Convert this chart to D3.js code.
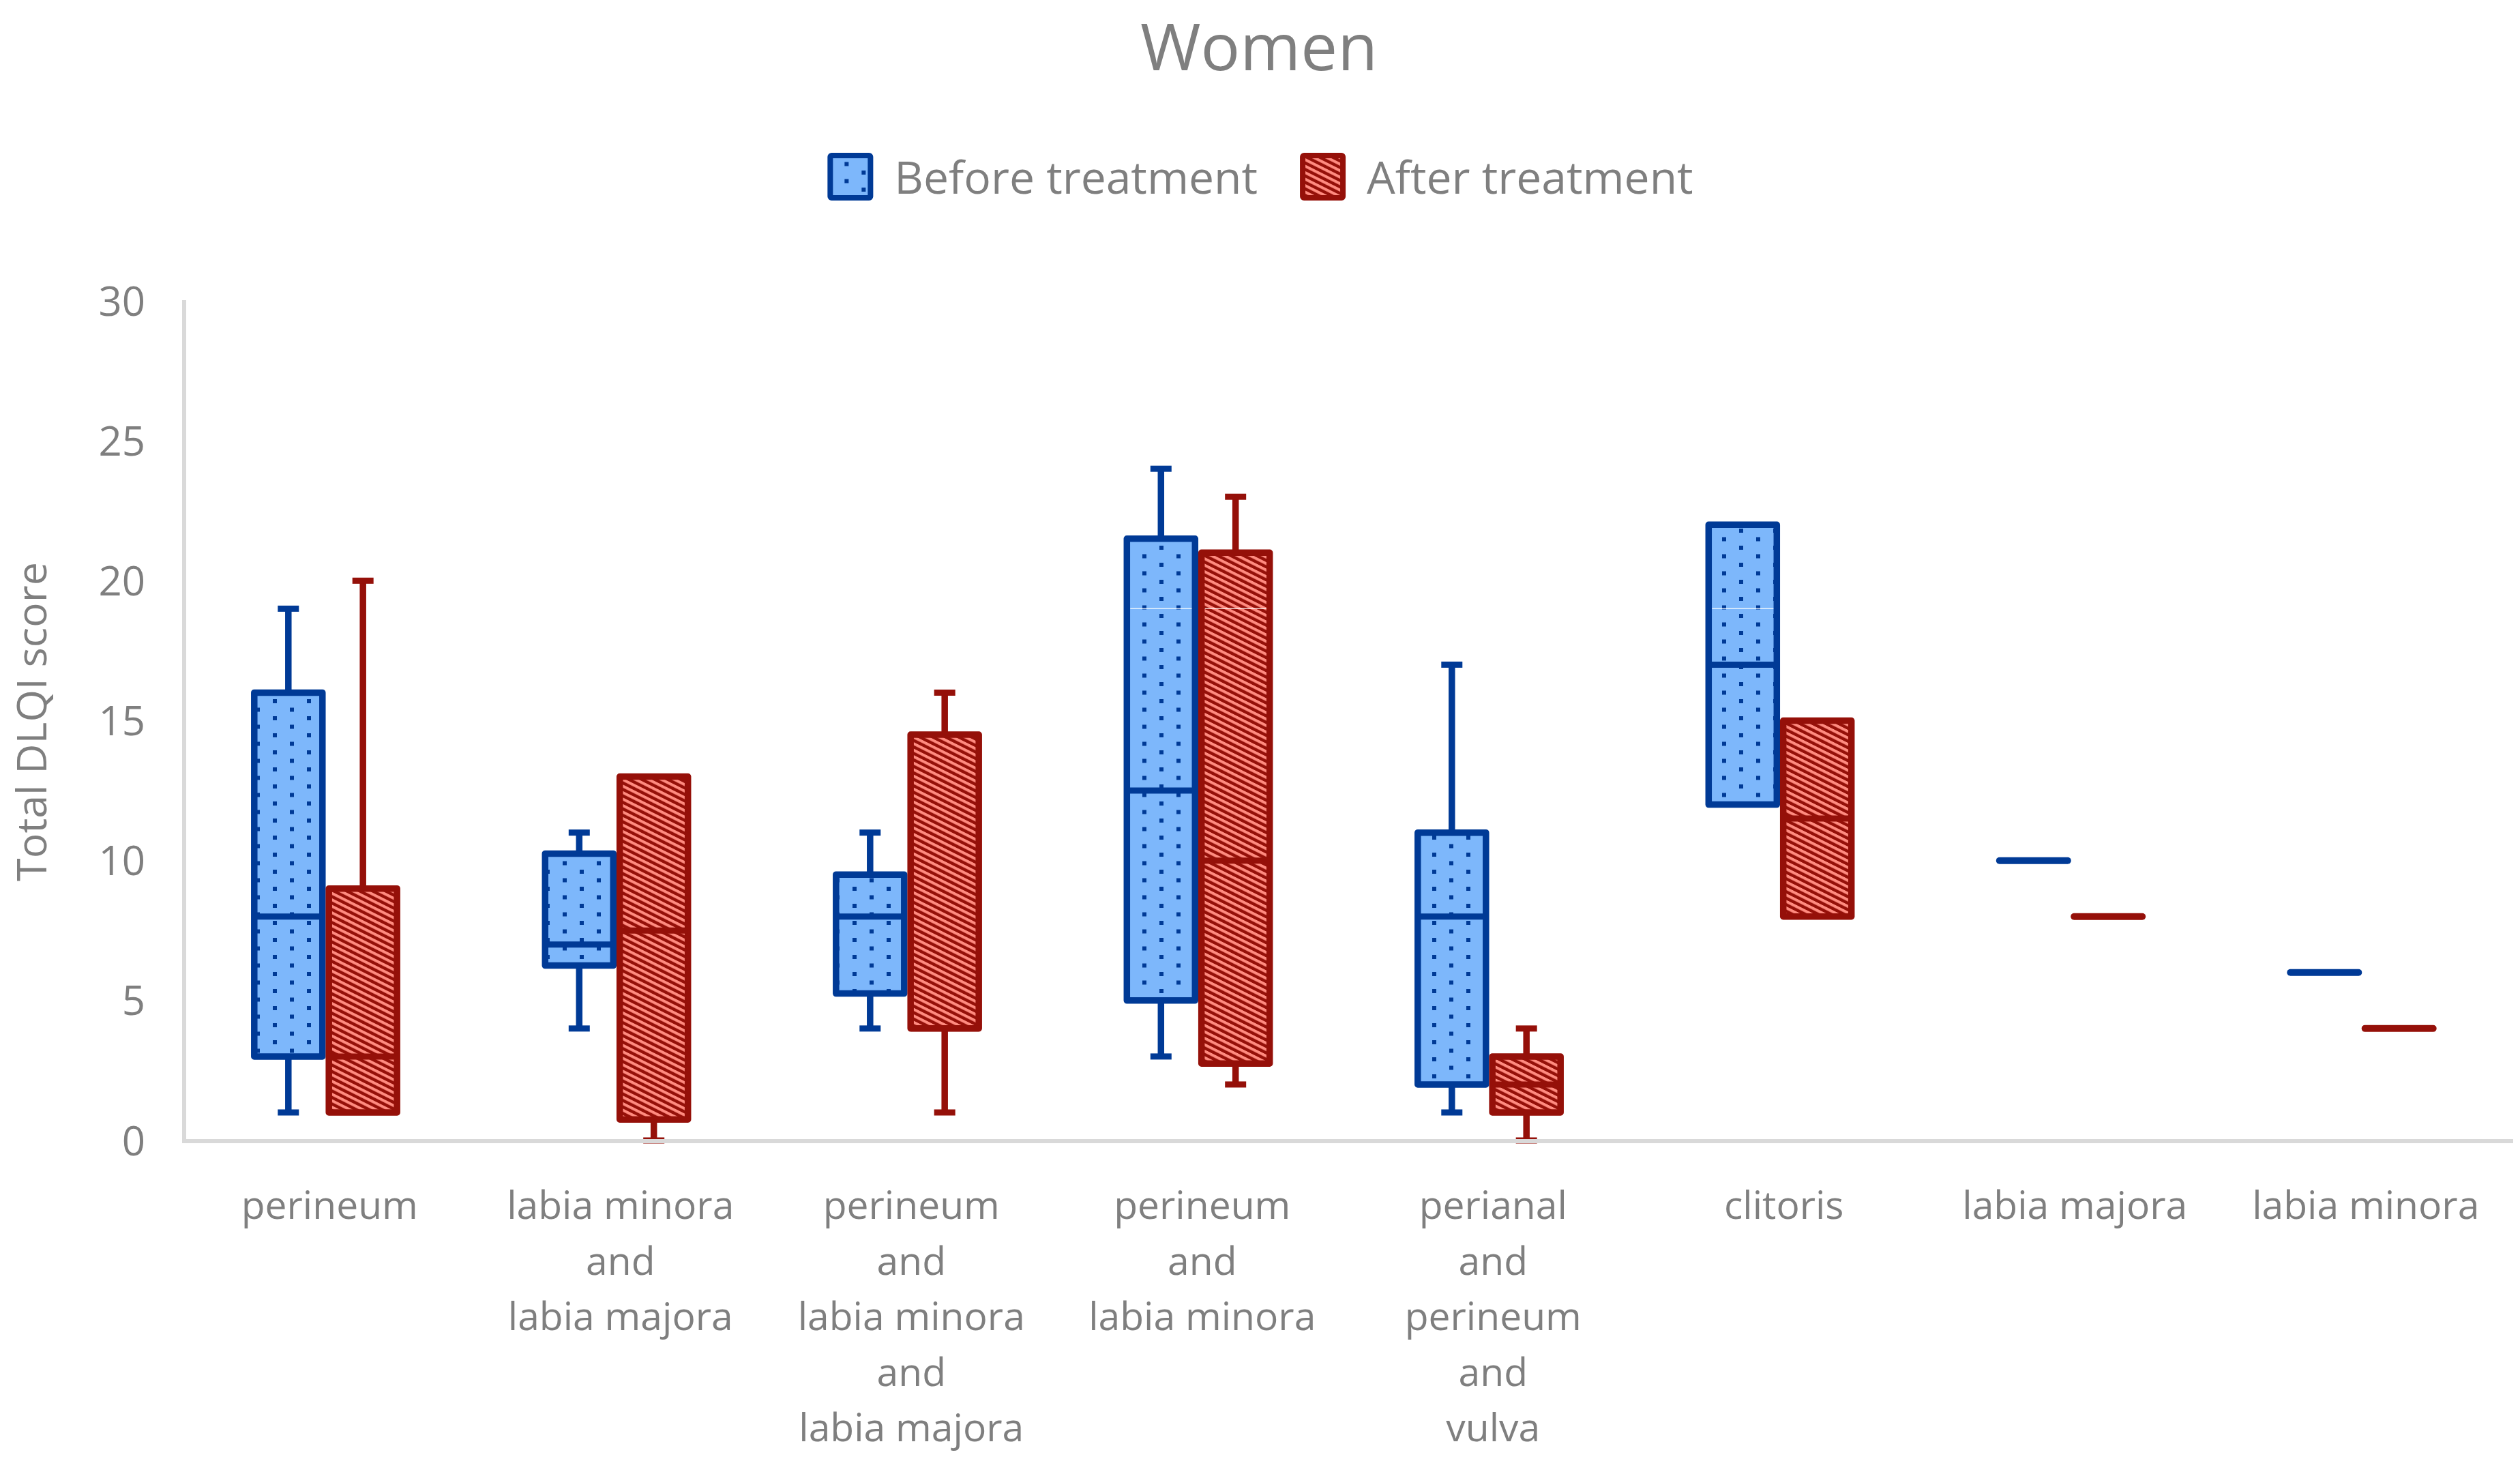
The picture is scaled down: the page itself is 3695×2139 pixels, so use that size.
<!DOCTYPE html>
<html lang="en">
<head>
    <meta charset="UTF-8">
    <title>Women - Total DLQI score</title>
    <script src="https://d3js.org/d3.v7.min.js"></script>
    <style>
        body { margin: 0; background: #fff; }
        text { font-family: "Open Sans", "Liberation Sans", sans-serif; fill: #7f7f7f; }
    </style>
</head>
<body>
    <div id="chart"></div>

    <script>
        // categories (label lines), and five-number summaries [min, q1, median, q3, max]
        var categories = [
            "perineum",
            "labia minora\nand\nlabia majora",
            "perineum\nand\nlabia minora\nand\nlabia majora",
            "perineum\nand\nlabia minora",
            "perianal\nand\nperineum\nand\nvulva",
            "clitoris",
            "labia majora",
            "labia minora"
        ];
        var beforeStats = [
            [1, 3, 8, 16, 19],
            [4, 6.25, 7, 10.25, 11],
            [4, 5.25, 8, 9.5, 11],
            [3, 5, 12.5, 21.5, 24],
            [1, 2, 8, 11, 17],
            [12, 12, 17, 22, 22],
            [10, 10, 10, 10, 10],
            [6, 6, 6, 6, 6]
        ];
        var afterStats = [
            [1, 1, 3, 9, 20],
            [0, 0.75, 7.5, 13, 13],
            [1, 4, 4, 14.5, 16],
            [2, 2.75, 10, 21, 23],
            [0, 1, 2, 3, 4],
            [8, 8, 11.5, 15, 15],
            [8, 8, 8, 8, 8],
            [4, 4, 4, 4, 4]
        ];
        var seriesNames = ["Before treatment", "After treatment"];
        var yTicks = [0, 5, 10, 15, 20, 25, 30];

        var width = 3695,
            height = 2139;

        var series = [
            { name: seriesNames[0], stats: beforeStats, stroke: "#003a96", fill: "url(#dots)" },
            { name: seriesNames[1], stats: afterStats, stroke: "#951009", fill: "url(#diag)" }
        ];

        var svg = d3.select("#chart").append("svg")
            .attr("width", width)
            .attr("height", height);

        // fill patterns: dotted blue, shallow diagonal red stripes
        var defs = svg.append("defs");
        var dots = defs.append("pattern")
            .attr("id", "dots")
            .attr("patternUnits", "userSpaceOnUse")
            .attr("width", 50)
            .attr("height", 25);
        dots.append("rect").attr("width", 50).attr("height", 25).attr("fill", "#7db7fb");
        dots.append("rect").attr("x", 0).attr("y", 0).attr("width", 6).attr("height", 6).attr("fill", "#003a96");
        dots.append("rect").attr("x", 25).attr("y", 12.5).attr("width", 6).attr("height", 6).attr("fill", "#003a96");

        var diag = defs.append("pattern")
            .attr("id", "diag")
            .attr("patternUnits", "userSpaceOnUse")
            .attr("width", 20)
            .attr("height", 9.5)
            .attr("patternTransform", "skewY(26.57)");
        diag.append("rect").attr("width", 20).attr("height", 9.5).attr("fill", "#951009");
        diag.append("rect").attr("width", 20).attr("height", 4.5).attr("fill", "#ff8b80");

        // scales
        var x0 = d3.scaleBand()
            .domain(d3.range(categories.length))
            .range([270, 3682]);

        var x1 = d3.scaleBand()
            .domain(seriesNames)
            .range([x0.bandwidth() * 0.23, x0.bandwidth() * 0.743]);

        var y = d3.scaleLinear()
            .domain([0, 30])
            .range([1672, 441]);

        var boxW = 100,
            capW = 31;

        // title
        svg.append("text")
            .attr("x", 1846)
            .attr("y", 103)
            .attr("text-anchor", "middle")
            .style("font-size", "96px")
            .text("Women");

        // legend
        var legend = svg.append("g");
        var lx = 0;
        series.forEach(function(s) {
            var g = legend.append("g").attr("transform", "translate(" + lx + ",0)");
            g.append("rect")
                .attr("x", 4).attr("y", 228)
                .attr("width", 59).attr("height", 62)
                .attr("rx", 2)
                .attr("fill", s.fill)
                .attr("stroke", s.stroke)
                .attr("stroke-width", 8);
            var t = g.append("text")
                .attr("x", 98)
                .attr("y", 284)
                .style("font-size", "66px")
                .text(s.name);
            lx += 98 + t.node().getComputedTextLength() + 62;
        });
        var legendW = lx - 62;
        legend.attr("transform", "translate(" + (1848 - legendW / 2) + ",0)");

        // y axis labels
        svg.append("g").selectAll("text")
            .data(yTicks)
            .join("text")
            .attr("x", 213)
            .attr("y", function(d) { return y(d); })
            .attr("dy", "0.36em")
            .attr("text-anchor", "end")
            .style("font-size", "60px")
            .text(function(d) { return d; });

        svg.append("text")
            .attr("transform", "translate(68," + 1058 + ") rotate(-90)")
            .attr("text-anchor", "middle")
            .style("font-size", "61px")
            .text("Total DLQI score");

        // boxes
        var plot = svg.append("g");
        series.forEach(function(s) {
            var g = plot.append("g");
            s.stats.forEach(function(d, i) {
                var cx = x0(i) + x1(s.name) + x1.bandwidth() / 2;
                var min = d[0], q1 = d[1], med = d[2], q3 = d[3], max = d[4];

                // whiskers
                if (max > q3) {
                    g.append("line")
                        .attr("x1", cx).attr("x2", cx)
                        .attr("y1", y(q3)).attr("y2", y(max))
                        .attr("stroke", s.stroke).attr("stroke-width", 9.5);
                    g.append("line")
                        .attr("x1", cx - capW / 2).attr("x2", cx + capW / 2)
                        .attr("y1", y(max)).attr("y2", y(max))
                        .attr("stroke", s.stroke).attr("stroke-width", 9);
                }
                if (min < q1) {
                    g.append("line")
                        .attr("x1", cx).attr("x2", cx)
                        .attr("y1", y(q1)).attr("y2", y(min))
                        .attr("stroke", s.stroke).attr("stroke-width", 9.5);
                    g.append("line")
                        .attr("x1", cx - capW / 2).attr("x2", cx + capW / 2)
                        .attr("y1", y(min)).attr("y2", y(min))
                        .attr("stroke", s.stroke).attr("stroke-width", 9);
                }

                if (q3 > q1) {
                    g.append("rect")
                        .attr("x", cx - boxW / 2)
                        .attr("y", y(q3))
                        .attr("width", boxW)
                        .attr("height", y(q1) - y(q3))
                        .attr("fill", s.fill)
                        .attr("stroke", s.stroke)
                        .attr("stroke-width", 9.5)
                        .attr("stroke-linejoin", "round");
                    // faint seam seen in the rendered fill
                    if (q1 < 19 && q3 > 19) {
                        g.append("line")
                            .attr("x1", cx - boxW / 2 + 5).attr("x2", cx + boxW / 2 - 5)
                            .attr("y1", y(19)).attr("y2", y(19))
                            .attr("stroke", "#fff").attr("stroke-opacity", 0.8).attr("stroke-width", 1.5);
                    }
                }
                // median (or single value)
                g.append("line")
                    .attr("x1", cx - boxW / 2).attr("x2", cx + boxW / 2)
                    .attr("y1", y(med)).attr("y2", y(med))
                    .attr("stroke", s.stroke)
                    .attr("stroke-width", q3 > q1 ? 9 : 10)
                    .attr("stroke-linecap", q3 > q1 ? "butt" : "round");
            });
        });

        // axis lines (drawn over the marks, like the original)
        svg.append("line")
            .attr("x1", 270).attr("x2", 270)
            .attr("y1", 440).attr("y2", 1676)
            .attr("stroke", "#d9d9d9").attr("stroke-width", 6);
        svg.append("line")
            .attr("x1", 267).attr("x2", 3685)
            .attr("y1", 1673).attr("y2", 1673)
            .attr("stroke", "#d9d9d9").attr("stroke-width", 6);

        // category labels
        var labels = svg.append("g").selectAll("text")
            .data(categories)
            .join("text")
            .attr("text-anchor", "middle")
            .style("font-size", "57px")
            .attr("transform", function(d, i) {
                return "translate(" + (x0(i) + x0.bandwidth() / 2) + ",1787)";
            });
        labels.selectAll("tspan")
            .data(function(d) { return d.split("\n"); })
            .join("tspan")
            .attr("x", 0)
            .attr("y", function(d, j) { return j * 81.5; })
            .text(function(d) { return d; });
    </script>
</body>
</html>
